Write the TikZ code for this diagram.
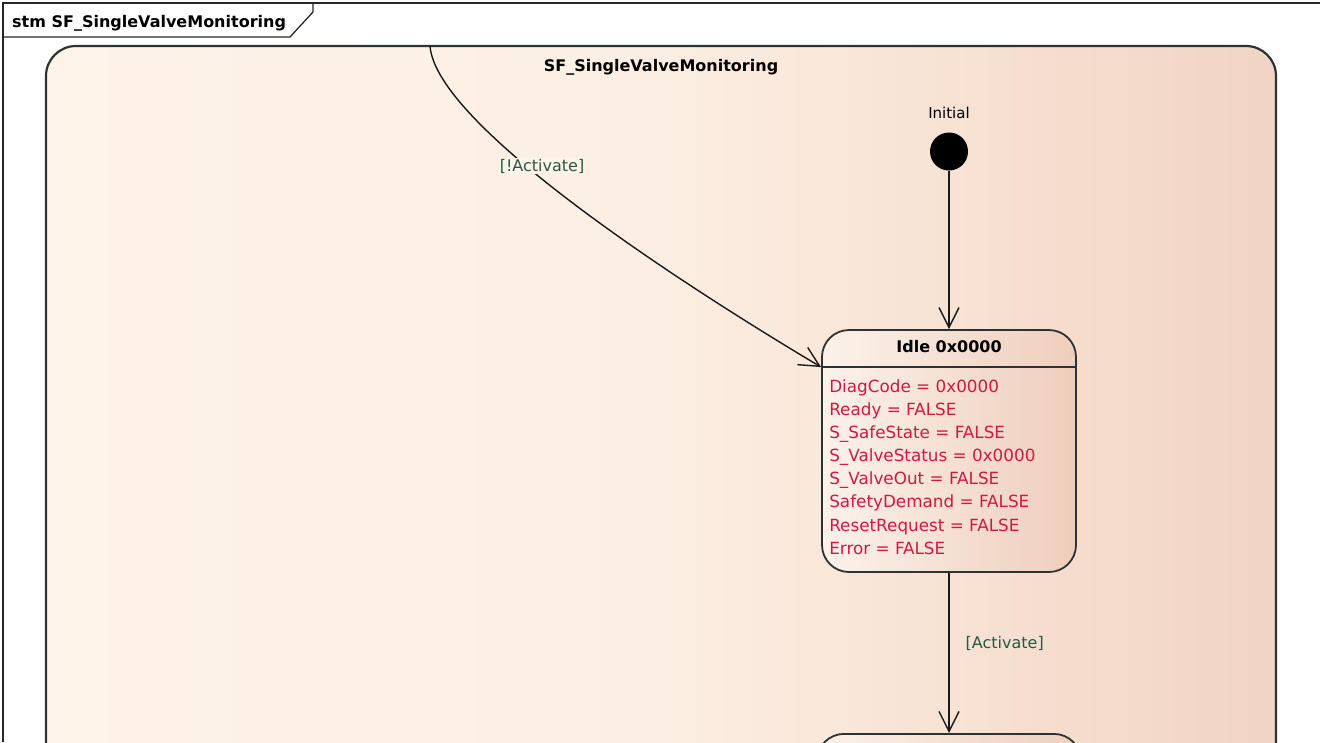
\documentclass[tikz,border=0pt]{standalone}
\usepackage{fontspec}
\setmainfont{DejaVu Sans}
\usetikzlibrary{arrows.meta,positioning}
\definecolor{edgecol}{RGB}{45,50,50}
\definecolor{compL}{RGB}{254,243,233}
\definecolor{compM}{RGB}{252,238,226}
\definecolor{compN}{RGB}{248,228,214}
\definecolor{compR}{RGB}{241,212,195}
\definecolor{idleL}{RGB}{251,242,235}
\definecolor{idleR}{RGB}{239,206,187}
\definecolor{attrred}{RGB}{210,24,66}
\definecolor{guardgreen}{RGB}{38,88,68}
\pgfdeclarehorizontalshading{compshade}{100bp}{color(0bp)=(compL); color(25bp)=(compL);
  color(50bp)=(compM); color(60bp)=(compN); color(75bp)=(compR); color(100bp)=(compR)}
\newcommand{\diagfont}[1]{\fontsize{#1}{20}\selectfont}
\begin{document}
\begin{tikzpicture}[x=1pt,y=-1pt,
  framebox/.style={draw=black!85,line width=1.3pt},
  compstate/.style={draw=edgecol,line width=2.2pt,rounded corners=30pt,shading=compshade},
  statebox/.style={draw=edgecol,line width=1.8pt,rounded corners=27pt,left color=idleL,right color=idleR,minimum width=254pt,inner sep=0pt},
  trans/.style={draw=black!90,line width=1.4pt,-{Straight Barb[length=20pt,width=20pt]}},
  guard/.style={text=guardgreen,font=\diagfont{16},inner sep=1pt},
  attr/.style={text=attrred,font=\diagfont{16.8},inner sep=0pt,anchor=base west},
  nametext/.style={font=\bfseries\diagfont{16},inner sep=0pt,anchor=base}]
\useasboundingbox (0,0) rectangle (1320,742);
\clip (0,0) rectangle (1320,742);
% frame and name tab
\draw[framebox] (3,742) -- (3,3) -- (1320,3);
\draw[framebox] (3,37) -- (290,37) -- (313,12) -- (313,3);
\node[nametext,anchor=base west] (frametitle) at (12,27) {stm SF\_SingleValveMonitoring};
% composite state
\draw[compstate] (46,46) rectangle (1276,820);
\node[nametext] (comptitle) at (661,71) {SF\_SingleValveMonitoring};
\coordinate (entry) at (430,46);
% initial pseudostate
\node[nametext,font=\diagfont{15}] (initlabel) at (949,118) {Initial};
\node[circle,fill=black,minimum size=38pt,inner sep=0pt] (init) at (949,151.5) {};
% Idle
\node[statebox,minimum height=242pt] (idle) at (949,451) {};
\node[nametext] (idletitle) at ([yshift=-23.3pt]idle.north) {Idle 0x0000};
\draw[edgecol,line width=1.6pt] ([yshift=-38pt]idle.north west) coordinate (idlediv) -- ([yshift=-38pt]idle.north east);
\foreach \txt [count=\i from 0] in {DiagCode = 0x0000, Ready = FALSE, S\_SafeState = FALSE,
    S\_ValveStatus = 0x0000, S\_ValveOut = FALSE, SafetyDemand = FALSE,
    ResetRequest = FALSE, Error = FALSE}
  \node[attr] (attr\i) at ([xshift=8pt,yshift={-63pt-23.15pt*\i}]idle.north west) {\txt};
% next state, cut off
\node[statebox,minimum width=264pt,minimum height=200pt,anchor=north] (active) at (949,733) {};
% transitions
\draw[trans] (init) -- (idle.north);
\draw[trans] (entry) .. controls (436,125) and (680,283) .. (idlediv);
\node[guard,fill=compL] (notact) at (542,166) {[!Activate]};
\draw[trans] (idle.south) -- (active.north) node[guard,pos=0.44,anchor=west,xshift=15pt] (act) {[Activate]};
\end{tikzpicture}
\end{document}
